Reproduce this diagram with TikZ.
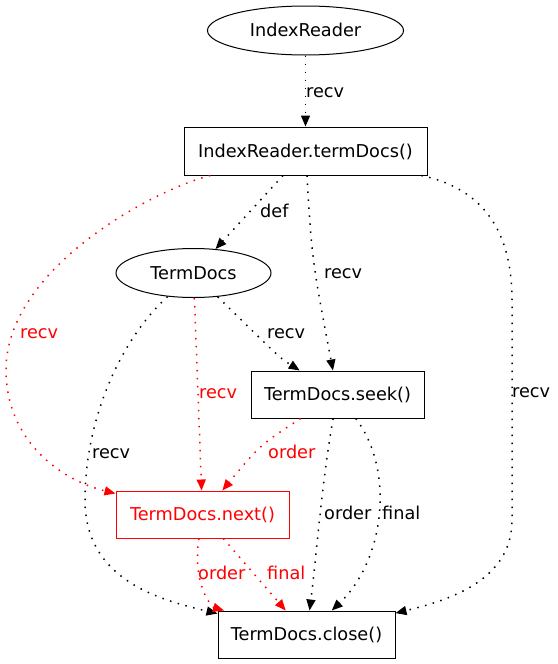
\documentclass[tikz,border=0pt]{standalone}
\usepackage{fontspec}
\setmainfont{DejaVu Sans}
\usetikzlibrary{shapes.geometric,arrows.meta}
\begin{document}
\begin{tikzpicture}[x=1pt,y=-1pt,
  font=\fontsize{17.7}{21}\selectfont,
  box/.style={draw, line width=1pt, rectangle, inner sep=0pt, minimum height=47pt, text height=12.8pt, text depth=0pt},
  ell/.style={draw, line width=1pt, ellipse, inner sep=0pt, text height=12.8pt, text depth=0pt},
  edge/.style={dash pattern=on 1.5pt off 6.5pt, line width=1.5pt, -{Triangle[length=11pt,width=9pt]}},
  lab/.style={anchor=base west, inner sep=0pt}]
\useasboundingbox (0,0) rectangle (557,664);

% nodes
\node[ell, minimum width=196pt, minimum height=49pt] (ir) at (305.5,30.5) {IndexReader};
\node[box, minimum width=243pt, minimum height=48pt] (tdm) at (305.5,151) {IndexReader.termDocs()};
\node[ell, minimum width=155pt, minimum height=49pt] (td) at (193.5,273) {TermDocs};
\node[box, minimum width=173pt] (seek) at (337.5,394.5) {TermDocs.seek()};
\node[box, minimum width=173pt, draw=red, text=red] (next) at (202.5,514.5) {TermDocs.next()};
\node[box, minimum width=177pt] (close) at (306.5,634.5) {TermDocs.close()};

% edges
\draw[edge] (ir) -- (tdm);
\draw[edge] (tdm) -- (td);
\draw[edge] (tdm) .. controls (312,260) .. (seek);
\draw[edge] (tdm) .. controls (490,190) and (512,240) .. (512,300) -- (512,520) .. controls (512,580) and (450,600) .. (close);
\draw[edge, red] (tdm) .. controls (150,191) and (6,270) .. (6,370) .. controls (6,440) and (60,480) .. (next);
\draw[edge] (td) .. controls (280,358) .. (seek);
\draw[edge, red] (td) -- (next);
\draw[edge] (td) .. controls (120,340) and (85,420) .. (85,500) .. controls (85,580) and (160,600) .. (close);
\draw[edge, red] (seek) .. controls (260,445) .. (next);
\draw[edge] (seek) .. controls (322,480) and (316,560) .. (close);
\draw[edge] (seek) .. controls (395,470) and (385,560) .. (close);
\draw[edge, red] (next) .. controls (192,585) and (212,607) .. (close);
\draw[edge, red] (next) -- (close);

% labels
\node[lab] (l1) at (306,97) {recv};
\node[lab] (l2) at (260,217) {def};
\node[lab] (l3) at (324,278) {recv};
\node[lab] (l4) at (512,397) {recv};
\node[lab, text=red] (l5) at (20,338) {recv};
\node[lab] (l6) at (267,338) {recv};
\node[lab, text=red] (l7) at (199,398) {recv};
\node[lab] (l8) at (92,458) {recv};
\node[lab, text=red] (l9) at (268,458) {order};
\node[lab] (l10) at (324,519) {order};
\node[lab] (l11) at (382,519) {final};
\node[lab, text=red] (l12) at (198,579) {order};
\node[lab, text=red] (l13) at (267,579) {final};
\end{tikzpicture}
\end{document}
